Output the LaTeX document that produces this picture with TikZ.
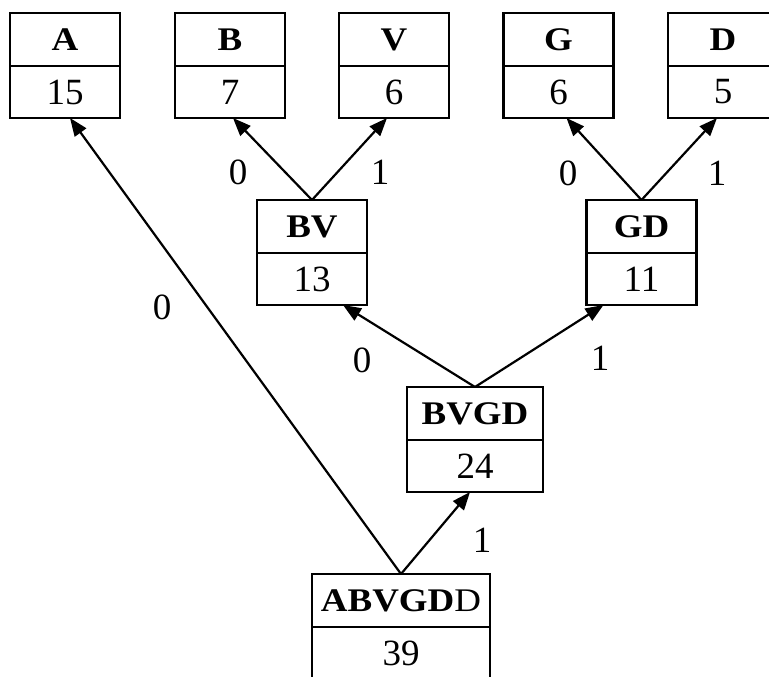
\documentclass[tikz,border=0pt]{standalone}
\usepackage{fontspec}
\setmainfont{Liberation Serif}
\newfontfamily\keyfont[FakeStretch=1.12]{Liberation Serif}
\usetikzlibrary{positioning,arrows.meta}

\tikzset{
  key/.style={draw, line width=2.2pt, outer sep=0pt, minimum height=53pt, inner sep=0pt, font=\fontsize{33}{33}\keyfont\bfseries},
  weight/.style={draw, line width=2.2pt, outer sep=0pt, minimum height=52pt, inner sep=0pt, font=\fontsize{37}{37}\selectfont},
  bit/.style={font=\fontsize{37}{37}\selectfont},
  link/.style={line width=2.2pt, -{Triangle[length=18pt,width=14pt]}}
}

\begin{document}
\begin{tikzpicture}[x=1pt, y=-1pt]
    \useasboundingbox (0,0) rectangle (769,677);
    \clip (0,0) rectangle (769,677);

    \coordinate (A) at (65, 39.5);
    \coordinate (B) at (230, 39.5);
    \coordinate (V) at (394, 39.5);
    \coordinate (G) at (558.5, 39.5);
    \coordinate (D) at (723, 39.5);
    \coordinate (BV) at (312, 226.5);
    \coordinate (GD) at (641.5, 226.5);
    \coordinate (BVGD) at (475, 413.5);
    \coordinate (ABVGDD) at (401, 600.5);

    \node [key, minimum width=110pt] (a) at (A) {A};
    \node [weight, minimum width=110pt, below=0pt of a] (a-w) {15};
    \node [key, minimum width=110pt] (b) at (B) {B};
    \node [weight, minimum width=110pt, below=0pt of b] (b-w) {7};
    \node [key, minimum width=110pt] (v) at (V) {V};
    \node [weight, minimum width=110pt, below=0pt of v] (v-w) {6};
    \node [key, minimum width=110pt] (g) at (G) {G};
    \node [weight, minimum width=110pt, below=0pt of g] (g-w) {6};
    \node [key, minimum width=110pt] (d) at (D) {D};
    \node [weight, minimum width=110pt, below=0pt of d] (d-w) {5};

    \node [key, minimum width=110pt] (bv) at (BV) {BV};
    \node [weight, minimum width=110pt, below=0pt of bv] (bv-w) {13};
    \node [key, minimum width=110pt] (gd) at (GD) {GD};
    \node [weight, minimum width=110pt, below=0pt of gd] (gd-w) {11};

    \node [key, minimum width=136pt] (bvgd) at (BVGD) {BVGD};
    \node [weight, minimum width=136pt, below=0pt of bvgd] (bvgd-w) {24};

    \node [key, minimum width=178pt] (abvgdd) at (ABVGDD) {ABVGD\mdseries D};
    \node [weight, minimum width=178pt, minimum height=53pt, below=0pt of abvgdd] (abvgdd-w) {39};

    \draw [link] (bv.north) -- ([xshift=3pt]b-w.south);
    \draw [link] (bv.north) -- ([xshift=-7pt]v-w.south);
    \draw [link] (gd.north) -- ([xshift=8pt]g-w.south);
    \draw [link] (gd.north) -- ([xshift=-6pt]d-w.south);
    \draw [link] (bvgd.north) -- ([xshift=31pt]bv-w.south);
    \draw [link] (bvgd.north) -- ([xshift=-38pt]gd-w.south);
    \draw [link] (abvgdd.north) -- ([xshift=5pt]a-w.south);
    \draw [link] (abvgdd.north) -- ([xshift=-5pt]bvgd-w.south);

    \node [bit] (bit-b) at (238, 172) {0};
    \node [bit] (bit-v) at (380, 172) {1};
    \node [bit] (bit-g) at (568, 173) {0};
    \node [bit] (bit-d) at (717, 173) {1};
    \node [bit] (bit-a) at (162, 307) {0};
    \node [bit] (bit-bv) at (362, 360) {0};
    \node [bit] (bit-gd) at (600, 358) {1};
    \node [bit] (bit-bvgd) at (482, 540) {1};
  \end{tikzpicture}
\end{document}
